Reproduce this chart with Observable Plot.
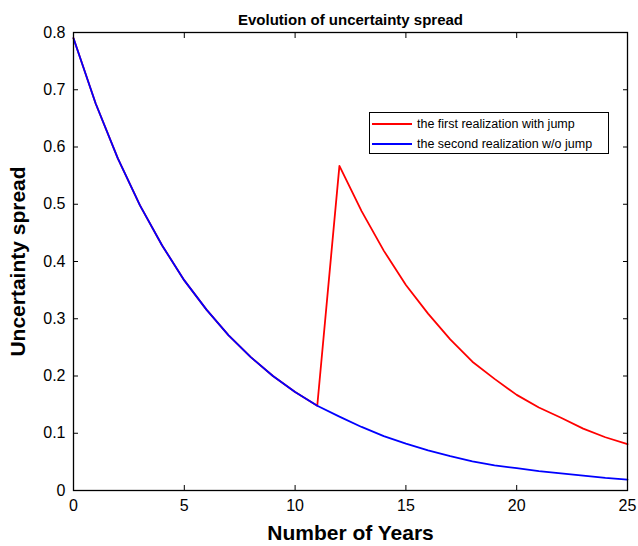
<!DOCTYPE html>
<html><head><meta charset="utf-8">
<script src="https://cdn.jsdelivr.net/npm/d3@7"></script>
<script src="https://cdn.jsdelivr.net/npm/@observablehq/plot@0.6"></script>
<style>
body{margin:0;background:#fff;font-family:"Liberation Sans",Arial,sans-serif;}
#wrap{position:relative;width:638px;height:546px;}
#legend{position:absolute;left:369px;top:112px;width:240px;height:42px;border:1px solid #000;background:#fff;box-sizing:border-box;font-size:12.5px;color:#000;}
.row{position:absolute;left:2px;height:14px;display:flex;align-items:center;white-space:nowrap;}
.sw{width:40px;height:2px;margin-right:5px;}
</style></head><body><div id="wrap"></div>
<script>
const years = [0,1,2,3,4,5,6,7,8,9,10,11,12,13,14,15,16,17,18,19,20,21,22,23,24,25];
const spreadJump = [0.790,0.676,0.580,0.498,0.428,0.367,0.316,0.271,0.233,0.200,0.172,0.148,0.567,0.488,0.419,0.359,0.309,0.264,0.225,0.195,0.167,0.145,0.127,0.108,0.093,0.081];
const spreadNoJump = [0.790,0.676,0.580,0.498,0.428,0.367,0.316,0.271,0.233,0.200,0.172,0.148,0.129,0.111,0.095,0.082,0.070,0.060,0.051,0.044,0.039,0.034,0.030,0.026,0.022,0.019];
const seriesNames = ["the first realization with jump","the second realization w/o jump"];
const seriesColors = ["#ff0000","#0000ff"];
const xTicks = [0,5,10,15,20,25];
const yTicks = [0,0.1,0.2,0.3,0.4,0.5,0.6,0.7,0.8];
const titleText = "Evolution of uncertainty spread";
const xLabel = "Number of Years";
const yLabel = "Uncertainty spread";

const rows = years.map((t,i)=>({year:t, jump:spreadJump[i], nojump:spreadNoJump[i]}));

const chart = Plot.plot({
  width:638, height:546,
  marginLeft:73, marginRight:11, marginTop:32, marginBottom:56,
  style:{fontFamily:"'Liberation Sans', Arial, sans-serif", fontSize:"16px", color:"#000", background:"#fff"},
  x:{domain:[0,25]},
  y:{domain:[0,0.8]},
  marks:[
    Plot.line(rows,{x:"year", y:"jump", stroke:seriesColors[0], strokeWidth:1.8}),
    Plot.line(rows,{x:"year", y:"nojump", stroke:seriesColors[1], strokeWidth:1.8}),
    Plot.axisX({ticks:xTicks, anchor:"bottom", tickSize:-5, tickPadding:14, label:null, fontSize:16}),
    Plot.axisY({ticks:yTicks, anchor:"left", tickSize:-5, tickPadding:13, label:null, fontSize:16, tickFormat:d=>String(d)}),
    Plot.axisX({ticks:xTicks, anchor:"top", tickSize:-5, label:null, fill:"none"}),
    Plot.axisY({ticks:yTicks, anchor:"right", tickSize:-5, label:null, fill:"none"}),
    Plot.frame({stroke:"#000", strokeWidth:1.3}),
    Plot.text([titleText],{text:d=>d, frameAnchor:"top", dy:-18, fontWeight:"bold", fontSize:15}),
    Plot.text([xLabel],{text:d=>d, frameAnchor:"bottom", dy:49, fontWeight:"bold", fontSize:21}),
    Plot.text([yLabel],{text:d=>d, frameAnchor:"left", textAnchor:"middle", dx:-55, rotate:-90, fontWeight:"bold", fontSize:21})
  ]
});
const wrap = document.getElementById("wrap");
wrap.appendChild(chart);
const legend = document.createElement("div");
legend.id = "legend";
seriesNames.forEach((name,i)=>{
  const row = document.createElement("div");
  row.className = "row";
  row.style.top = (i===0 ? 4 : 23.5) + "px";
  const sw = document.createElement("span");
  sw.className = "sw"; sw.style.background = seriesColors[i];
  const tx = document.createElement("span");
  tx.textContent = name;
  row.appendChild(sw); row.appendChild(tx);
  legend.appendChild(row);
});
wrap.appendChild(legend);
</script>
</body></html>
